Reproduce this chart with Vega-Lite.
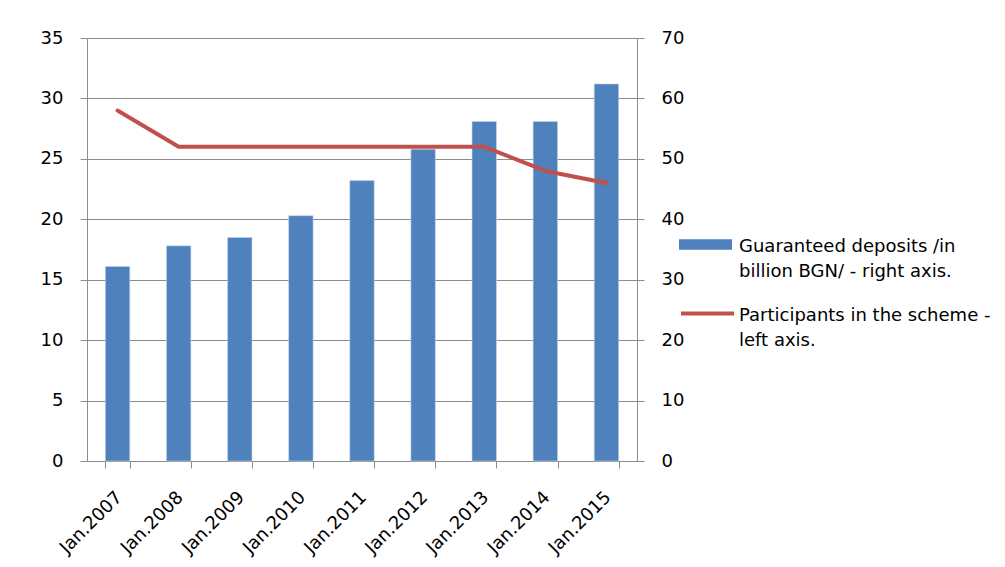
{
  "$schema": "https://vega.github.io/schema/vega-lite/v6.json",
  "autosize": {"type": "none"},
  "width": 550,
  "height": 423,
  "padding": {"left": 87, "top": 38, "right": 368, "bottom": 106},
  "background": "white",
  "config": {
    "view": {"stroke": null},
    "axis": {"gridColor": "#8c8c8c", "domainColor": "#8c8c8c", "tickColor": "#8c8c8c", "labelColor": "#000000"},
    "style": {"guide-label": {"lineHeight": 25, "dy": -7}}
  },
  "data": {
    "values": [
      {"period": "Jan.2007", "deposits": 16.1, "participants": 58},
      {"period": "Jan.2008", "deposits": 17.8, "participants": 52},
      {"period": "Jan.2009", "deposits": 18.5, "participants": 52},
      {"period": "Jan.2010", "deposits": 20.3, "participants": 52},
      {"period": "Jan.2011", "deposits": 23.2, "participants": 52},
      {"period": "Jan.2012", "deposits": 25.8, "participants": 52},
      {"period": "Jan.2013", "deposits": 28.1, "participants": 52},
      {"period": "Jan.2014", "deposits": 28.1, "participants": 48},
      {"period": "Jan.2015", "deposits": 31.2, "participants": 46}
    ]
  },
  "encoding": {
    "x": {
      "field": "period",
      "type": "nominal",
      "sort": null,
      "scale": {"paddingInner": 0.6, "paddingOuter": 0.3},
      "axis": {
        "title": null,
        "labelAngle": -45,
        "labelFont": "DejaVu Sans",
        "labelFontSize": 18,
        "labelPadding": 25,
        "labelOffset": 0,
        "tickBand": "extent",
        "tickSize": 7,
        "grid": false
      }
    }
  },
  "layer": [
    {
      "transform": [{"calculate": "'Guaranteed deposits /in billion BGN/ - right axis.'", "as": "series"}],
      "mark": {"type": "bar", "stroke": "#c6d6ea", "strokeWidth": 0.6},
      "encoding": {
        "y": {
          "field": "deposits",
          "type": "quantitative",
          "scale": {"domain": [0, 35], "nice": false},
          "axis": {
            "title": null,
            "values": [0, 5, 10, 15, 20, 25, 30, 35],
            "labelFont": "DejaVu Sans",
            "labelFontSize": 18,
            "labelPadding": 17,
            "labelOffset": 7,
            "tickSize": 7,
            "grid": true,
            "domain": true
          }
        },
        "fill": {
          "field": "series",
          "type": "nominal",
          "scale": {"range": ["#4f81bd"]},
          "legend": {
            "title": null,
            "orient": "none",
            "legendX": 592,
            "legendY": 180,
            "labelFont": "DejaVu Sans",
            "labelFontSize": 18,
            "labelColor": "#000000",
            "labelLimit": 400,
            "labelOffset": 7,
            "labelBaseline": "top",
            "symbolType": "M-1,-0.2H1V0.2H-1Z",
            "symbolSize": 2809,
            "symbolStrokeWidth": 0,
            "symbolOpacity": 1,
            "labelExpr": "['Guaranteed deposits /in', 'billion BGN/ - right axis.']"
          }
        }
      }
    },
    {
      "transform": [{"calculate": "'Participants in the scheme - left axis.'", "as": "series"}],
      "mark": {"type": "line", "strokeWidth": 4, "strokeCap": "round", "strokeJoin": "round"},
      "encoding": {
        "y": {
          "field": "participants",
          "type": "quantitative",
          "scale": {"domain": [0, 70], "nice": false},
          "axis": {
            "title": null,
            "orient": "right",
            "values": [0, 10, 20, 30, 40, 50, 60, 70],
            "labelFont": "DejaVu Sans",
            "labelFontSize": 18,
            "labelPadding": 17,
            "labelOffset": 7,
            "tickSize": 7,
            "grid": false,
            "domain": true
          }
        },
        "stroke": {
          "field": "series",
          "type": "nominal",
          "scale": {"range": ["#c0504d"]},
          "legend": {
            "title": null,
            "orient": "none",
            "legendX": 592,
            "legendY": 247,
            "labelFont": "DejaVu Sans",
            "labelFontSize": 18,
            "labelColor": "#000000",
            "labelLimit": 400,
            "labelOffset": 3,
            "labelBaseline": "top",
            "symbolType": "stroke",
            "symbolSize": 2809,
            "symbolStrokeWidth": 4,
            "symbolOpacity": 1,
            "labelExpr": "['Participants in the scheme -', 'left axis.']"
          }
        }
      }
    }
  ],
  "resolve": {"scale": {"y": "independent"}}
}
